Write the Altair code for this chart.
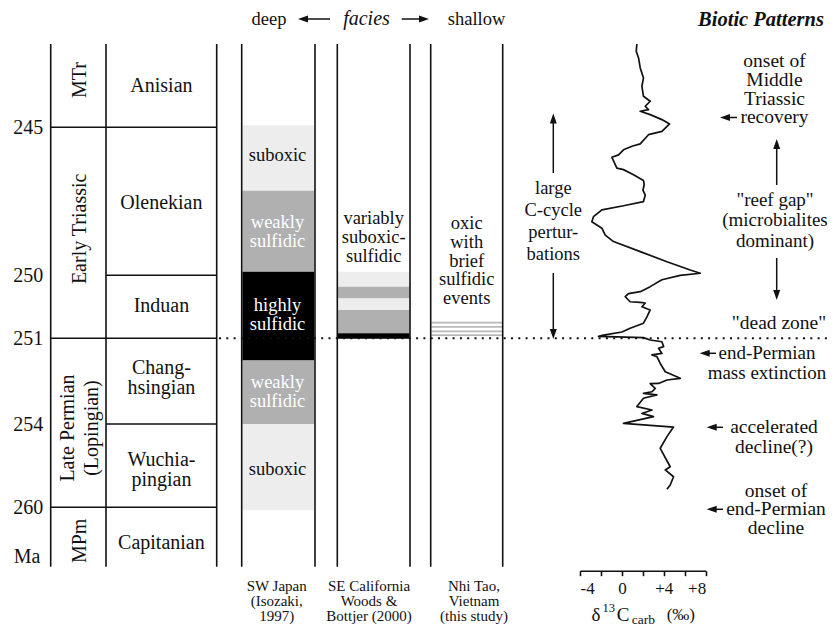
import math
import altair as alt
import pandas as pd

SERIF = "Liberation Serif"
INK = "#111111"

# ---------------- data ----------------
age_top, age_bottom = 241.0, 262.0
age_ticks = [245, 250, 251, 254, 260]
series_bounds = [245, 251, 260]
stage_bounds = [250, 254]

stage_names = ["Anisian", "Olenekian", "Induan", "Chang-\nhsingian", "Wuchia-\npingian", "Capitanian"]
stage_label_age = [243.0, 247.56, 250.49, 252.04, 256.59, 261.2]
series_names = ["MTr", "Early Triassic", "Late Permian\n(Lopingian)", "MPm"]
series_label_age = [242.73, 248.43, 254.29, 261.13]

state_order = ["suboxic", "weakly sulfidic", "highly sulfidic"]
state_fill = ["#ededed", "#b0b0b0", "#000000"]

japan_top = [244.9, 247.14, 249.88, 251.78, 254.0]
japan_bot = [247.14, 249.88, 251.78, 254.0, 260.1]
japan_state = ["suboxic", "weakly sulfidic", "highly sulfidic", "weakly sulfidic", "suboxic"]
japan_label_age = [245.94, 248.20, 250.47, 252.52, 257.24]

calif_top = [249.88, 250.18, 250.37, 250.55, 250.92]
calif_bot = [250.18, 250.37, 250.55, 250.92, 251.02]
calif_state = ["suboxic", "weakly sulfidic", "suboxic", "weakly sulfidic", "highly sulfidic"]

viet_event_age = [250.75, 250.82, 250.89, 250.95]

boundary_age = [251]

d13c_age = [241.00, 241.35, 241.67, 242.15, 242.63, 243.03, 243.51, 243.75, 243.99, 244.15,
            244.23, 244.39, 244.63, 244.84, 245.14, 245.25, 245.56, 245.64, 245.76, 245.93,
            246.01, 246.38, 246.43, 246.60, 246.80, 246.94, 247.12, 247.29, 247.51, 247.65,
            247.79, 248.02, 248.19, 248.41, 248.64, 248.86, 249.20, 249.54, 249.82, 249.93,
            250.00, 250.07, 250.18, 250.26, 250.29, 250.34, 250.42, 250.43, 250.44, 250.50,
            250.55, 250.66, 250.76, 250.84, 250.90, 250.95, 250.97, 250.99, 251.06, 251.12,
            251.29, 251.35, 251.53, 251.58, 251.64, 251.88, 252.17, 252.40, 252.46, 252.58,
            252.59, 252.75, 252.87, 252.93, 252.98, 253.10, 253.39, 253.51, 253.63, 253.74,
            253.98, 254.22, 254.91, 255.75, 257.08, 257.31, 257.80, 258.39, 258.70]
d13c_val = [1.43, 1.37, 1.59, 1.75, 2.06, 1.91, 2.06, 2.70, 2.23, 2.54,
            1.75, 2.70, 3.82, 4.55, 3.82, 2.54, 1.75, 0.96, 0.15, -0.32,
            -0.96, -0.48, 0.15, 1.11, 2.06, 2.13, 2.01, 2.23, 2.06, 0.15,
            -1.91, -2.71, -2.87, -1.91, -1.59, -0.80, 1.75, 4.30, 6.52, 7.48,
            5.57, 3.82, 2.70, 1.75, 0.63, 0.32, 0.79, 1.75, 2.23, 1.91,
            2.70, 2.39, 2.06, 0.79, 0.00, -1.76, -2.23, 2.06, 2.70, 3.82,
            3.98, 3.50, 3.82, 2.87, 3.34, 3.66, 4.14, 5.57, 4.30, 3.50,
            2.70, 3.18, 2.87, 2.06, 3.34, 2.06, 1.43, 2.87, 1.91, 3.02,
            0.15, 4.93, 4.30, 3.66, 4.61, 4.14, 4.93, 4.61, 4.30]
d13c_ticks = [-4, -2, 0, 2, 4, 6, 8]

# ---------------- layout ----------------
W, H = 820, 618


def P(v):
    return v - 8  # page pixel -> plot pixel


Y_BREAK_AGES = [241, 245, 250, 251, 254, 260, 262]
Y_BREAK_PIX = [44, 127.3, 275.3, 338.3, 424, 507.3, 566.7]

yscale = alt.Scale(domain=Y_BREAK_AGES, range=[P(v) for v in Y_BREAK_PIX], nice=False, zero=False)
yaxis = alt.Axis(values=age_ticks, orient="left", offset=-P(50.7), domain=False, ticks=False,
                 grid=False, labelPadding=8, labelFont=SERIF, labelFontSize=20,
                 labelColor=INK, title=None, labelOverlap=False)


def Y(f):
    return alt.Y(f, type="quantitative", scale=yscale, axis=yaxis)


ONE = pd.DataFrame({"k": [0]})
FRAME = pd.DataFrame({"top": [age_top], "bot": [age_bottom]})
layers = []

# facies rectangles
color_enc = alt.Color("state:N", scale=alt.Scale(domain=state_order, range=state_fill), legend=None)
japan_df = pd.DataFrame({"top": japan_top, "bot": japan_bot, "state": japan_state})
calif_df = pd.DataFrame({"top": calif_top, "bot": calif_bot, "state": calif_state})
layers.append(alt.Chart(japan_df).mark_rect().encode(
    y=Y("top"), y2="bot", x=alt.value(P(242.4)), x2=alt.value(P(314.4)), color=color_enc))
layers.append(alt.Chart(calif_df).mark_rect().encode(
    y=Y("top"), y2="bot", x=alt.value(P(338.0)), x2=alt.value(P(409.6)), color=color_enc))
layers.append(alt.Chart(pd.DataFrame({"age": viet_event_age})).mark_rule(
    color="#b8b8b8", strokeWidth=1.8).encode(
    y=Y("age"), x=alt.value(P(431.4)), x2=alt.value(P(502.0))))

# vertical column lines
for xv in [50.7, 106, 216.7, 241.7, 315, 337.3, 410, 430.7, 502.7]:
    layers.append(alt.Chart(FRAME).mark_rule(color=INK, strokeWidth=1.6).encode(
        y=Y("top"), y2="bot", x=alt.value(P(xv))))

# horizontal boundaries
layers.append(alt.Chart(pd.DataFrame({"age": series_bounds})).mark_rule(color=INK, strokeWidth=1.6).encode(
    y=Y("age"), x=alt.value(P(50.7)), x2=alt.value(P(216.7))))
layers.append(alt.Chart(pd.DataFrame({"age": stage_bounds})).mark_rule(color=INK, strokeWidth=1.6).encode(
    y=Y("age"), x=alt.value(P(106)), x2=alt.value(P(216.7))))

# dotted P/T boundary
layers.append(alt.Chart(pd.DataFrame({"age": boundary_age})).mark_rule(
    color=INK, strokeWidth=2, strokeDash=[2, 5.3]).encode(
    y=Y("age"), x=alt.value(P(219)), x2=alt.value(W)))

# d13C curve
curve_df = pd.DataFrame({"i": range(len(d13c_age)), "age": d13c_age, "d13c": d13c_val})
layers.append(alt.Chart(curve_df).mark_line(color=INK, strokeWidth=1.7, strokeJoin="round").encode(
    x=alt.X("d13c:Q", scale=alt.Scale(domain=[-4, 8], range=[P(580), P(705.7)], nice=False, zero=False),
            axis=alt.Axis(values=d13c_ticks, orient="bottom", offset=-(H - P(570.7)), grid=False,
                          title=None, domainColor=INK, domainWidth=1.6, tickColor=INK, tickWidth=1.6,
                          tickSize=5, labelFont=SERIF, labelFontSize=17, labelColor=INK,
                          labelPadding=5, labelOverlap=False,
                          labelExpr="datum.value % 4 == 0 ? (datum.value > 0 ? '+' + datum.value : '' + datum.value) : ''")),
    y=Y("age"), order=alt.Order("i:Q")))

# stage & series names (multi-line texts are anchored at their first line)
stage_df = pd.DataFrame({"age": stage_label_age, "name": stage_names})
layers.append(alt.Chart(stage_df).mark_text(font=SERIF, fontSize=20, lineHeight=20, lineBreak="\n",
                                            color=INK, align="center", baseline="middle").encode(
    y=Y("age"), x=alt.value(P(161.4)), text="name:N"))
series_df = pd.DataFrame({"age": series_label_age, "name": series_names})
layers.append(alt.Chart(series_df).transform_filter("indexof(datum.name, '\\n') < 0").mark_text(
    font=SERIF, fontSize=20, angle=270, color=INK, align="center", baseline="middle").encode(
    y=Y("age"), x=alt.value(P(80)), text="name:N"))
layers.append(alt.Chart(series_df).transform_filter("indexof(datum.name, '\\n') >= 0").mark_text(
    font=SERIF, fontSize=20, lineHeight=24, lineBreak="\n", angle=270, color=INK,
    align="center", baseline="middle").encode(
    y=Y("age"), x=alt.value(P(68)), text="name:N"))

# Japan facies labels
jl_df = pd.DataFrame({"age": japan_label_age, "state": japan_state,
                      "label": [s.replace(" ", "\n") for s in japan_state]})
layers.append(alt.Chart(jl_df).mark_text(font=SERIF, fontSize=18.5, lineHeight=19, lineBreak="\n",
                                         align="center", baseline="middle").encode(
    y=Y("age"), x=alt.value(P(277.5)), text="label:N",
    color=alt.condition(alt.datum.state == "suboxic", alt.value(INK), alt.value("white"))))


def label(lines, x, y, size=19, lh=19, **kw):
    t = lines if len(lines) > 1 else lines[0]
    return alt.Chart(ONE).mark_text(text=t, font=SERIF, fontSize=size, lineHeight=lh, color=INK,
                                    align="center", baseline="middle", **kw).encode(
        x=alt.value(P(x)), y=alt.value(P(y)))


HEAD = "M0,-1L0.7,1L-0.7,1Z"


def arrow(x1, y1, x2, y2):
    dx, dy = x2 - x1, y2 - y1
    L = math.hypot(dx, dy)
    ux, uy = dx / L, dy / L
    hx, hy = x2 - 5 * ux, y2 - 5 * uy
    ang = (math.degrees(math.atan2(dx, -dy)) + 360) % 360
    line = alt.Chart(ONE).mark_rule(color=INK, strokeWidth=1.5).encode(
        x=alt.value(P(x1)), y=alt.value(P(y1)), x2=alt.value(P(hx)), y2=alt.value(P(hy)))
    head = alt.Chart(ONE).mark_point(shape=HEAD, size=100, filled=True, color=INK, opacity=1,
                                     angle=ang, strokeWidth=0).encode(
        x=alt.value(P(hx)), y=alt.value(P(hy)))
    return [line, head]


# facies column texts
layers.append(label(["variably", "suboxic-", "sulfidic"], 373.7, 218, size=18.5, lh=19))
layers.append(label(["oxic", "with", "brief", "sulfidic", "events"], 466.7, 223, size=18.5, lh=18.8))

# header
layers.append(label(["deep"], 269, 18.5, size=18.5))
layers.append(label(["facies"], 366.5, 18.5, size=20, fontStyle="italic"))
layers.append(label(["shallow"], 476.5, 18.5, size=18.5))
layers += arrow(330, 19, 298, 19)
layers += arrow(401.7, 19, 429, 19)
layers.append(label(["Biotic Patterns"], 761, 20, size=20.5, fontStyle="italic", fontWeight="bold"))

# Ma
layers.append(label(["Ma"], 27, 556.7, size=20))

# footers
layers.append(label(["SW Japan", "(Isozaki,", "1997)"], 276.7, 586, size=15, lh=15))
layers.append(label(["SE California", "Woods  &", "Bottjer (2000)"], 369, 586, size=15, lh=15))
layers.append(label(["Nhi Tao,", "Vietnam", "(this study)"], 474, 586, size=15, lh=15))

# C-cycle text and arrows
layers.append(label(["large", "C-cycle", "pertur-", "bations"], 553.3, 188.3, size=18.5, lh=22))
layers += arrow(553.3, 173, 553.3, 113.5)
layers += arrow(553.3, 273, 553.3, 339)

# biotic patterns
layers.append(label(["onset of", "Middle", "Triassic", "recovery"], 774.5, 61, size=19.5, lh=18.8))
layers += arrow(737, 117.5, 720, 117.5)
layers.append(label(['"reef gap"', "(microbialites", "dominant)"], 775, 200, size=19, lh=20.3))
layers += arrow(776.7, 185, 776.7, 139)
layers += arrow(776.7, 258, 776.7, 300)
layers.append(label(['"dead zone"'], 779, 322.7, size=19.5))
layers.append(label(["end-Permian", "mass extinction"], 767, 353.3, size=19, lh=20))
layers += arrow(716, 353.3, 699.7, 353.3)
layers.append(label(["accelerated", "decline(?)"], 774, 427, size=19.5, lh=19.7))
layers += arrow(723, 427.3, 706.7, 427.3)
layers.append(label(["onset of", "end-Permian", "decline"], 776, 490.7, size=19.5, lh=18.8))
layers += arrow(723, 509.3, 706.7, 509.3)

# d13C axis title
layers.append(label(["δ"], 596, 615, size=19))
layers.append(label(["13"], 608.7, 608, size=12.5))
layers.append(label(["C"], 623, 615, size=19))
layers.append(label(["carb"], 643.3, 620, size=13.5))
layers.append(label(["(‰)"], 680.8, 615, size=17))

chart = alt.layer(*layers).properties(
    width=W, height=H, padding=0, autosize=alt.AutoSizeParams(type="none"), background="white"
).configure_view(stroke=None)

chart.save("out.html", embed_options={"renderer": "svg", "actions": False})
